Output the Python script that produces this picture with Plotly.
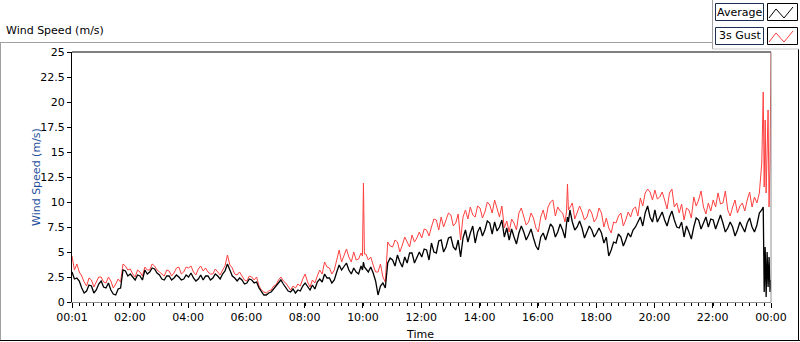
import pandas as pd
import plotly.graph_objects as go

# ---- data ----
grid_minutes = list(range(1, 1412, 10))  # 00:01 ... 23:31, every 10 min
grid_avg = [
    3.0, 2.4, 1.4, 1.1, 1.6, 1.2,
    2.1, 1.4, 1.2, 0.7, 1.4, 3.1,
    2.8, 2.2, 2.6, 3.2, 3.0, 3.3,
    2.7, 2.2, 2.6, 2.4, 2.5, 2.3,
    2.5, 2.4, 2.3, 2.2, 2.6, 2.4,
    2.6, 2.8, 3.8, 2.6, 2.1, 2.2,
    1.9, 2.2, 2.0, 1.0, 0.7, 1.0,
    1.5, 2.2, 1.5, 1.0, 0.9, 1.1,
    1.9, 1.2, 1.3, 2.3, 2.8, 2.4,
    2.2, 3.7, 3.6, 3.2, 3.4, 2.8,
    4.0, 3.0, 2.9, 0.7, 1.9, 3.9,
    4.2, 4.7, 3.5, 3.9, 4.9, 4.4,
    4.5, 5.2, 5.9, 4.9, 6.2, 5.5,
    6.5, 5.2, 4.5, 7.2, 6.9, 5.9,
    7.5, 7.2, 7.9, 8.0, 7.5, 6.5,
    6.2, 6.5, 6.9, 7.0, 6.7, 6.4,
    5.2, 6.9, 7.0, 7.5, 7.0, 7.2,
    8.5, 8.0, 7.5, 7.4, 7.0, 7.2,
    6.9, 6.9, 6.5, 5.2, 5.9, 6.5,
    6.2, 6.5, 7.5, 8.5, 8.9, 8.5,
    9.2, 8.5, 8.2, 8.5, 8.2, 7.4,
    6.5, 7.0, 7.5, 8.2, 7.9, 7.5,
    8.2, 8.0, 7.9, 7.4, 7.5, 7.2,
    7.5, 7.9, 7.5, 7.7,
]
grid_gust = [
    4.6, 3.8, 2.6, 1.6, 2.2, 2.0,
    2.5, 1.9, 2.1, 1.8, 2.0, 3.6,
    3.3, 2.5, 3.0, 3.5, 3.2, 3.6,
    3.0, 2.6, 3.1, 2.9, 3.5, 3.0,
    3.4, 3.0, 3.3, 3.1, 3.0, 2.8,
    3.0, 3.2, 4.7, 3.4, 2.7, 2.6,
    2.1, 2.5, 2.5, 1.2, 0.9, 1.2,
    1.7, 2.5, 1.9, 1.2, 1.4, 1.6,
    2.8, 1.5, 1.9, 3.2, 4.0, 3.4,
    3.2, 5.2, 4.7, 4.5, 5.0, 4.3,
    11.9, 4.2, 3.7, 3.0, 2.5, 6.0,
    5.5, 6.0, 5.7, 6.0, 6.7, 6.4,
    6.4, 7.2, 7.5, 8.2, 8.5, 8.2,
    8.7, 7.9, 6.2, 9.2, 9.5, 8.5,
    9.4, 9.0, 9.7, 10.2, 8.5, 7.4,
    7.0, 7.9, 8.9, 8.4, 8.0, 8.4,
    7.0, 9.2, 9.5, 10.2, 9.5, 8.9,
    11.8, 9.9, 9.0, 9.0, 8.5, 8.9,
    8.4, 8.9, 8.4, 6.9, 7.9, 8.9,
    8.2, 8.5, 9.5, 10.4, 10.9, 11.0,
    11.2, 10.5, 10.2, 10.9, 9.5, 8.9,
    8.2, 9.2, 10.5, 10.2, 9.5, 9.9,
    10.2, 10.9, 9.9, 9.2, 9.5, 8.9,
    9.9, 10.2, 9.5, 9.9,
]
# readings half-way between the 10-minute points (other side of the noise band)
mid_minutes = list(range(6, 1427, 10))[:141]  # 00:06 ... 23:26
mid_avg = [
    2.3, 2.1, 0.9, 1.7, 0.9, 1.8,
    1.5, 1.9, 0.8, 1.3, 3.2, 2.6,
    2.5, 2.7, 2.2, 2.8, 3.4, 2.9,
    2.3, 2.6, 2.2, 2.7, 2.2, 2.7,
    2.9, 2.1, 2.7, 2.6, 2.2, 2.8,
    2.3, 3.1, 3.2, 2.4, 2.4, 1.8,
    2.3, 1.9, 1.4, 0.7, 0.9, 1.3,
    1.9, 1.8, 1.1, 1.3, 1.2, 1.6,
    1.5, 1.7, 2.0, 2.0, 2.4, 1.9,
    3.0, 3.2, 3.9, 2.8, 3.0, 3.6,
    3.3, 3.5, 2.1, 1.6, 1.4, 4.4,
    3.6, 4.0, 4.5, 4.9, 3.9, 5.0,
    5.3, 4.2, 5.0, 6.1, 5.0, 6.4,
    5.5, 6.2, 6.4, 6.0, 7.6, 7.0,
    6.6, 8.1, 6.8, 7.1, 8.2, 7.4,
    7.3, 5.8, 7.6, 6.2, 7.3, 5.6,
    6.5, 6.2, 7.8, 6.5, 7.8, 6.4,
    9.2, 7.2, 8.1, 6.4, 7.6, 6.5,
    7.4, 5.9, 4.6, 6.0, 6.8, 5.6,
    6.9, 7.2, 8.0, 7.6, 9.6, 8.0,
    8.0, 9.0, 7.6, 9.1, 7.5, 8.0,
    7.6, 6.3, 8.4, 7.3, 8.5, 8.3,
    7.3, 8.7, 7.0, 8.0, 6.6, 8.0,
    7.0, 8.4, 7.0,
]
mid_gust = [
    3.2, 3.0, 2.0, 2.4, 1.5, 2.5,
    2.0, 2.5, 1.4, 2.3, 3.8, 3.2,
    2.8, 3.2, 2.6, 3.2, 3.8, 3.2,
    2.8, 3.2, 2.6, 3.4, 2.8, 3.5,
    3.6, 2.7, 3.6, 3.4, 2.8, 3.3,
    2.7, 3.6, 3.7, 2.8, 3.0, 2.2,
    2.6, 2.2, 1.6, 1.0, 1.1, 1.6,
    2.2, 2.1, 1.5, 1.6, 1.8, 2.3,
    2.0, 2.2, 2.6, 2.8, 3.5, 2.8,
    4.2, 4.0, 5.3, 4.0, 4.2, 4.9,
    4.8, 4.5, 3.0, 3.8, 2.0, 5.6,
    6.2, 5.0, 6.5, 5.5, 6.0, 7.0,
    7.3, 6.6, 8.3, 7.2, 7.5, 8.9,
    7.6, 8.8, 8.5, 8.3, 8.7, 9.6,
    8.4, 10.0, 8.9, 9.3, 9.6, 8.1,
    8.3, 7.2, 9.4, 7.7, 8.9, 7.4,
    8.5, 8.2, 10.0, 8.6, 9.1, 8.0,
    9.5, 8.3, 9.6, 8.2, 9.3, 8.0,
    9.4, 7.5, 7.4, 8.0, 8.6, 7.6,
    9.0, 9.3, 8.6, 9.6, 11.3, 10.2,
    10.3, 11.0, 9.3, 11.3, 9.9, 9.8,
    9.4, 8.4, 9.6, 11.1, 8.8, 9.1,
    9.5, 9.8, 11.1, 8.6, 10.2, 9.6,
    9.1, 11.0, 10.5,
]
extra_minutes = [599, 603, 1019, 1023,
                 1416, 1421, 1424, 1426, 1428, 1430, 1432, 1434, 1436, 1438, 1440]
extra_avg = [3.2, 3.5, 7.8, 8.0,
             8.9, 9.2, 9.5, 1.0, 5.5, 0.5, 5.0, 1.5, 4.5, 1.0, 2.2]
extra_gust = [4.6, 4.8, 9.0, 9.2,
              10.9, 13.9, 21.0, 11.5, 18.2, 10.9, 15.2, 19.2, 9.5, 14.0, 25.0]

y_ticks = [0, 2.5, 5, 7.5, 10, 12.5, 15, 17.5, 20, 22.5, 25]
x_tick_hours = [0, 2, 4, 6, 8, 10, 12, 14, 16, 18, 20, 22, 24]
x_tick_labels = ["00:01", "02:00", "04:00", "06:00", "08:00", "10:00", "12:00",
                 "14:00", "16:00", "18:00", "20:00", "22:00", "00:00"]

# ---- assemble ----
df = pd.DataFrame({
    "minute": grid_minutes + mid_minutes + extra_minutes,
    "avg": grid_avg + mid_avg + extra_avg,
    "gust": grid_gust + mid_gust + extra_gust,
}).sort_values("minute")
base = pd.Timestamp("2024-01-01")
df["time"] = base + pd.to_timedelta(df["minute"], unit="m")

start = base + pd.Timedelta(minutes=1)
end = base + pd.Timedelta(hours=24)
tickvals = [start] + [base + pd.Timedelta(hours=h) for h in x_tick_hours[1:]]

FONT = "DejaVu Sans"
fig = go.Figure()
fig.add_trace(go.Scatter(x=df["time"], y=df["gust"], mode="lines", name="3s Gust",
                         line=dict(color="#ff4040", width=1), showlegend=False))
fig.add_trace(go.Scatter(x=df["time"], y=df["avg"], mode="lines", name="Average",
                         line=dict(color="#000000", width=1.3), showlegend=False))

L, T, R, B = 72, 52, 771, 302
W, H = 800, 342


def px(x):
    return (x - L) / (R - L)


def py(y):
    return (B - y) / (B - T)


shapes = []
def line(x0, y0, x1, y1, color, width=1):
    shapes.append(dict(type="line", xref="paper", yref="paper",
                       x0=px(x0), y0=py(y0), x1=px(x1), y1=py(y1),
                       line=dict(color=color, width=width)))

# outer frame
line(0, 42.5, 713, 42.5, "#a0a0a0")
line(0.5, 42.5, 0.5, 340.5, "#a0a0a0")
line(0, 340.5, 800, 340.5, "#000000")
line(798.5, 49, 798.5, 341, "#000000")
line(712.5, 0, 712.5, 49, "#a0a0a0")
line(712.5, 49, 799, 49, "#c8c8c8")
# plot frame
line(L, T, R, T, "#000000")
line(R, T, R, B, "#909090")

# legend boxes
def rect(x0, y0, x1, y1, color, fill="white"):
    shapes.append(dict(type="rect", xref="paper", yref="paper",
                       x0=px(x0), y0=py(y0), x1=px(x1), y1=py(y1),
                       line=dict(color=color, width=1), fillcolor=fill))

rect(715.5, 3.5, 763.5, 20.5, "#1c2f55")
rect(767.5, 3.5, 797.5, 20.5, "#000000")
rect(715.5, 27.5, 763.5, 44.5, "#1c2f55")
rect(767.5, 27.5, 797.5, 44.5, "#000000")

def zig(y_top, color):
    pts = [(769, y_top + 15), (776, y_top + 6), (784, y_top + 15), (793, y_top + 4)]
    path = "M " + " L ".join(f"{px(x)},{py(y)}" for x, y in pts)
    shapes.append(dict(type="path", xref="paper", yref="paper", path=path,
                       line=dict(color=color, width=1)))

zig(3, "#000000")
zig(27, "#ff4040")

annotations = [
    dict(text="Wind Speed (m/s)", xref="paper", yref="paper", x=px(4), y=py(31),
         xanchor="left", yanchor="middle", showarrow=False,
         font=dict(family=FONT, size=11, color="#000000")),
    dict(text="Wind Speed (m/s)", xref="paper", yref="paper", x=px(36), y=0.5,
         xanchor="center", yanchor="middle", textangle=-90, showarrow=False,
         font=dict(family=FONT, size=11, color="#1f4f9c")),
    dict(text="Time", xref="paper", yref="paper", x=px(420), y=py(334),
         xanchor="center", yanchor="middle", showarrow=False,
         font=dict(family=FONT, size=11, color="#000000")),
    dict(text="Average", xref="paper", yref="paper", x=px(739.5), y=py(12),
         xanchor="center", yanchor="middle", showarrow=False,
         font=dict(family=FONT, size=11, color="#000000")),
    dict(text="3s Gust", xref="paper", yref="paper", x=px(739.5), y=py(36),
         xanchor="center", yanchor="middle", showarrow=False,
         font=dict(family=FONT, size=11, color="#000000")),
]

fig.update_layout(
    width=W, height=H,
    margin=dict(l=L, r=W - R, t=T, b=H - B, pad=0),
    paper_bgcolor="white", plot_bgcolor="white",
    showlegend=False,
    shapes=shapes, annotations=annotations,
    font=dict(family=FONT, size=11, color="#000000"),
    xaxis=dict(type="date", range=[start, end], tickmode="array",
               tickvals=tickvals, ticktext=x_tick_labels,
               showgrid=False, zeroline=False,
               showline=True, linecolor="#909090", linewidth=1,
               ticks="outside", ticklen=5, tickcolor="#000000", tickwidth=1,
               tickfont=dict(family=FONT, size=11, color="#000000"),
               minor=dict(ticks="outside", ticklen=3, tickcolor="#000000",
                          dtick=15 * 60 * 1000, tick0=start, showgrid=False)),
    yaxis=dict(range=[0, 25], tickmode="array", tickvals=y_ticks,
               ticktext=[f"{v:g}" for v in y_ticks],
               showgrid=False, zeroline=False,
               showline=True, linecolor="#000000", linewidth=1,
               ticks="outside", ticklen=4, tickcolor="#000000",
               tickfont=dict(family=FONT, size=11, color="#000000")),
)

fig.write_html(
    "out.html",
    config={"displayModeBar": False, "staticPlot": True},
    post_script="document.body.style.margin='0';document.body.style.overflow='hidden';",
)
